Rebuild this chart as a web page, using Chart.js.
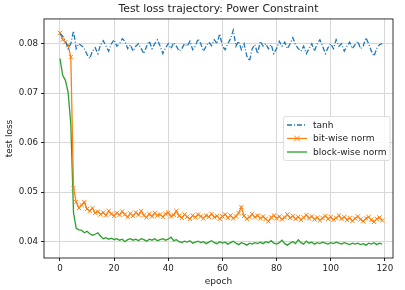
<!DOCTYPE html>
<html><head><meta charset="utf-8">
<script src="https://cdn.jsdelivr.net/npm/chart.js@4/dist/chart.umd.min.js"></script>
<style>html,body{margin:0;padding:0;background:#fff;}#wrap{width:405px;height:290px;}</style>
</head><body><div id="wrap"><canvas id="c" width="405" height="290"></canvas></div>
<script>
const epochs = Array.from({length:120},(_,i)=>i);
const seriesNames = ["tanh","bit-wise norm","block-wise norm"];
const tanhLoss = [0.0820,0.0815,0.0805,0.0790,0.0800,0.0826,0.0790,0.0800,0.0796,0.0790,
0.0778,0.0770,0.0785,0.0792,0.0780,0.0798,0.0806,0.0795,0.0785,0.0800,
0.0808,0.0795,0.0800,0.0810,0.0805,0.0790,0.0798,0.0785,0.0795,0.0800,
0.0790,0.0780,0.0795,0.0805,0.0790,0.0800,0.0808,0.0795,0.0780,0.0792,
0.0800,0.0790,0.0802,0.0795,0.0785,0.0790,0.0800,0.0795,0.0805,0.0788,
0.0795,0.0810,0.0800,0.0785,0.0795,0.0803,0.0796,0.0808,0.0800,0.0820,
0.0795,0.0788,0.0800,0.0810,0.0827,0.0795,0.0805,0.0788,0.0800,0.0775,
0.0765,0.0790,0.0798,0.0780,0.0805,0.0795,0.0800,0.0790,0.0798,0.0780,
0.0790,0.0805,0.0795,0.0803,0.0790,0.0800,0.0812,0.0798,0.0790,0.0785,
0.0795,0.0780,0.0790,0.0800,0.0785,0.0800,0.0808,0.0795,0.0780,0.0792,
0.0800,0.0790,0.0808,0.0795,0.0800,0.0785,0.0795,0.0803,0.0790,0.0798,
0.0805,0.0790,0.0795,0.0812,0.0800,0.0785,0.0775,0.0790,0.0798,0.0800];
const bitLoss = [0.0822,0.0808,0.0803,0.0797,0.0773,0.0508,0.0480,0.0468,0.0474,0.0480,
0.0466,0.0462,0.0468,0.0458,0.0461,0.0455,0.0459,0.0453,0.0462,0.0456,
0.0452,0.0458,0.0454,0.0461,0.0455,0.0450,0.0457,0.0452,0.0459,0.0454,
0.0462,0.0453,0.0449,0.0456,0.0451,0.0458,0.0453,0.0455,0.0450,0.0456,
0.0459,0.0451,0.0454,0.0462,0.0452,0.0448,0.0455,0.0450,0.0446,0.0453,
0.0449,0.0455,0.0451,0.0447,0.0453,0.0450,0.0456,0.0449,0.0452,0.0446,
0.0451,0.0455,0.0448,0.0453,0.0447,0.0451,0.0458,0.0470,0.0452,0.0446,
0.0450,0.0456,0.0449,0.0453,0.0447,0.0451,0.0446,0.0441,0.0449,0.0453,
0.0447,0.0451,0.0445,0.0449,0.0455,0.0448,0.0452,0.0446,0.0450,0.0444,
0.0449,0.0454,0.0447,0.0451,0.0445,0.0449,0.0443,0.0448,0.0452,0.0446,
0.0450,0.0444,0.0448,0.0453,0.0446,0.0450,0.0444,0.0448,0.0442,0.0447,
0.0451,0.0445,0.0441,0.0447,0.0450,0.0444,0.0440,0.0446,0.0449,0.0443];
const blockLoss = [0.0770,0.0736,0.0726,0.0702,0.0638,0.0458,0.0427,0.0424,0.0423,0.0418,
0.0421,0.0416,0.0413,0.0415,0.0418,0.0411,0.0406,0.0408,0.0405,0.0407,
0.0404,0.0406,0.0403,0.0405,0.0400,0.0404,0.0406,0.0403,0.0405,0.0402,
0.0406,0.0404,0.0401,0.0405,0.0403,0.0406,0.0402,0.0404,0.0406,0.0403,
0.0405,0.0409,0.0402,0.0404,0.0400,0.0398,0.0401,0.0399,0.0402,0.0397,
0.0399,0.0401,0.0398,0.0400,0.0396,0.0399,0.0402,0.0398,0.0396,0.0400,
0.0397,0.0399,0.0395,0.0398,0.0401,0.0397,0.0394,0.0398,0.0396,0.0393,
0.0397,0.0395,0.0398,0.0396,0.0399,0.0396,0.0400,0.0398,0.0402,0.0397,
0.0395,0.0398,0.0403,0.0396,0.0393,0.0397,0.0400,0.0396,0.0404,0.0398,
0.0395,0.0401,0.0397,0.0399,0.0395,0.0398,0.0396,0.0399,0.0397,0.0395,
0.0398,0.0396,0.0399,0.0397,0.0395,0.0398,0.0396,0.0394,0.0397,0.0395,
0.0397,0.0394,0.0396,0.0393,0.0397,0.0395,0.0398,0.0394,0.0397,0.0395];
const xTicks = [0,20,40,60,80,100,120];
const yTicks = [0.04,0.05,0.06,0.07,0.08];

const FONT = "'DejaVu Sans', sans-serif";
const pts = arr => epochs.map((e,i)=>({x:e,y:arr[i]}));

const frame = {
  id:'frame',
  afterDatasetsDraw(chart){
    const {ctx, chartArea:a} = chart;
    ctx.save();
    ctx.strokeStyle = '#000'; ctx.lineWidth = 0.8;
    ctx.strokeRect(a.left, a.top, a.right-a.left, a.bottom-a.top);
    ctx.restore();
  }
};

const legendBox = {
  id:'legendBox',
  afterDraw(chart){
    const ctx = chart.ctx;
    const x0=283.5, y0=116.5, w=106.5, h=44;
    ctx.save();
    ctx.globalAlpha = 0.85;
    ctx.fillStyle = '#fff';
    ctx.beginPath();
    if (ctx.roundRect) ctx.roundRect(x0,y0,w,h,2); else ctx.rect(x0,y0,w,h);
    ctx.fill();
    ctx.globalAlpha = 1;
    ctx.strokeStyle = '#d6d6d6'; ctx.lineWidth = 0.8;
    ctx.stroke();
    const rows = [125, 138.5, 152];
    chart.data.datasets.forEach((ds,i)=>{
      const y = rows[i];
      ctx.strokeStyle = ds.borderColor; ctx.lineWidth = ds.borderWidth;
      ctx.setLineDash(ds.borderDash || []);
      ctx.beginPath(); ctx.moveTo(287,y); ctx.lineTo(307,y); ctx.stroke();
      ctx.setLineDash([]);
      if (ds.pointRadius > 0) {
        ctx.lineWidth = 1;
        const r = 2.8;
        ctx.beginPath();
        ctx.moveTo(297-r,y-r); ctx.lineTo(297+r,y+r);
        ctx.moveTo(297-r,y+r); ctx.lineTo(297+r,y-r);
        ctx.stroke();
      }
      ctx.fillStyle = '#222';
      ctx.font = "9px " + FONT;
      ctx.textBaseline = 'middle'; ctx.textAlign = 'left';
      ctx.fillText(ds.label, 313, y+0.5);
    });
    ctx.restore();
  }
};

new Chart(document.getElementById('c'), {
  type:'line',
  data:{ datasets:[
    {label:seriesNames[0], data:pts(tanhLoss), borderColor:'#1f77b4', backgroundColor:'#1f77b4',
      borderWidth:1.3, borderDash:[5,2,1,2], pointRadius:0, tension:0},
    {label:seriesNames[1], data:pts(bitLoss), borderColor:'#ff7f0e', backgroundColor:'#ff7f0e',
      borderWidth:1.3, pointStyle:'crossRot', pointRadius:3, pointBorderWidth:1,
      pointBorderColor:'#ff7f0e', tension:0},
    {label:seriesNames[2], data:pts(blockLoss), borderColor:'#2ca02c', backgroundColor:'#2ca02c',
      borderWidth:1.3, pointRadius:0, tension:0}
  ]},
  options:{
    responsive:false, animation:false, devicePixelRatio:1,
    layout:{padding:{left:4,right:12,top:0,bottom:0}},
    plugins:{
      legend:{display:false}, tooltip:{enabled:false},
      title:{display:true, text:'Test loss trajectory: Power Constraint', fullSize:false,
        color:'#222', font:{family:FONT, size:10.8, weight:'normal'}, padding:{top:3,bottom:3}}
    },
    scales:{
      x:{type:'linear', min:-5.9, max:123,
        afterBuildTicks(s){ s.ticks = xTicks.map(v=>({value:v})); },
        afterFit(s){ s.height = 32; },
        ticks:{color:'#222', font:{family:FONT,size:8.7}, padding:3, maxRotation:0,
          callback:v=>String(v)},
        grid:{color:'#d8d8d8', lineWidth:1, tickColor:'#222', tickLength:3, drawTicks:true},
        border:{display:false},
        title:{display:true, text:'epoch', color:'#222', font:{family:FONT,size:9}, padding:{top:0,bottom:3}}
      },
      y:{type:'linear', min:0.0367, max:0.085,
        afterBuildTicks(s){ s.ticks = yTicks.map(v=>({value:v})); },
        afterFit(s){ s.width = 40; },
        ticks:{color:'#222', font:{family:FONT,size:8.7}, padding:3,
          callback:v=>v.toFixed(2)},
        grid:{color:'#d8d8d8', lineWidth:1, tickColor:'#222', tickLength:3, drawTicks:true},
        border:{display:false},
        title:{display:true, text:'test loss', color:'#222', font:{family:FONT,size:9}, padding:{top:0,bottom:2}}
      }
    }
  },
  plugins:[frame, legendBox]
});
</script></body></html>
